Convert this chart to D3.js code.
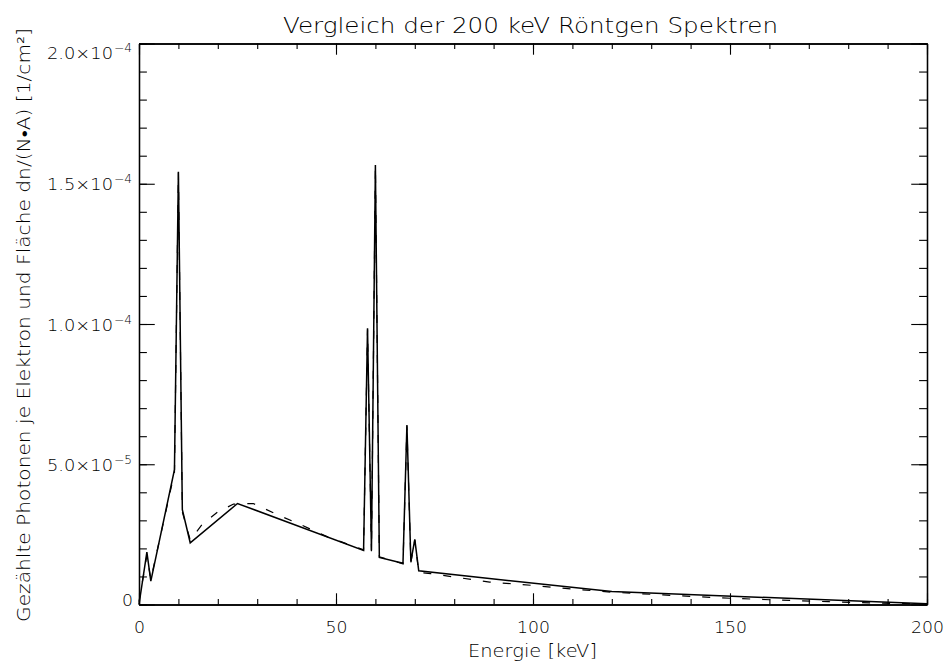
<!DOCTYPE html>
<html>
<head>
<meta charset="utf-8">
<script src="https://cdn.jsdelivr.net/npm/d3@7"></script>
<style>
  html, body { margin: 0; padding: 0; background: #fff; }
  svg { display: block; }
  text { font-family: "DejaVu Sans", "Liberation Sans", sans-serif; font-weight: 200; fill: #000; }
</style>
</head>
<body>
<svg id="chart" width="949" height="666"></svg>
<script>
// ---- Data (values in units of 1e-5 1/cm²) ----
const solidEnergy = [0, 2, 3, 9, 10, 11, 13, 25, 57, 58, 59, 60, 61, 67, 68, 69, 70, 71, 120, 200];
const solidValue  = [0, 1.87, 0.83, 4.81, 15.43, 3.38, 2.2, 3.6, 1.93, 9.85, 1.93, 15.67, 1.68, 1.47, 6.4, 1.53, 2.32, 1.2, 0.46, 0.03];

const dashedEnergy = [0, 2, 3, 9, 10, 11, 13, 16, 20, 24, 29, 36, 41, 48, 57, 58, 59, 60, 61, 67, 68, 69, 70, 71, 74, 80, 89, 100, 110, 120, 133, 147, 160, 175, 188, 200];
const dashedValue  = [0.1, 1.75, 0.9, 4.7, 15.4, 3.3, 2.3, 2.85, 3.3, 3.58, 3.6, 3.15, 2.85, 2.4, 1.95, 9.8, 1.9, 15.6, 1.7, 1.45, 6.35, 1.5, 2.3, 1.15, 1.1, 0.98, 0.8, 0.68, 0.55, 0.44, 0.34, 0.24, 0.17, 0.1, 0.05, 0.02];

const xMajorTicks = [0, 50, 100, 150, 200];
const xMajorLabels = ["0", "50", "100", "150", "200"];
const xMinorTicks = d3.range(0, 201, 10);
const yMajorTicks = [0, 5, 10, 15, 20];
const yLabelMantissa = ["0", "5.0×10", "1.0×10", "1.5×10", "2.0×10"];
const yLabelExponent = ["", "−5", "−4", "−4", "−4"];
const yMinorTicks = d3.range(0, 20.01, 1);

const titleText = "Vergleich der 200 keV Röntgen Spektren";
const xTitle = "Energie [keV]";
const yTitle = "Gezählte Photonen je Elektron und Fläche dn/(N•A) [1/cm²]";

// ---- Layout ----
const L = 139, R = 927, T = 43.5, B = 604.5;
const svg = d3.select("#chart");
const x = d3.scaleLinear().domain([0, 200]).range([L, R]);
const y = d3.scaleLinear().domain([0, 20]).range([B, T]);

const xTickLen = 0.02 * (B - T);   // ticks on x axes
const yTickLen = 0.02 * (R - L);   // ticks on y axes
const charW = 11;                  // label glyph advance (wide stroke font)

function styleAxis(g) {
  g.select(".domain").attr("stroke", "#000").attr("stroke-width", 1.3);
  g.selectAll(".tick line").attr("stroke", "#000").attr("stroke-width", 1.1);
  g.selectAll(".tick text").remove();
}

// bottom axis
svg.append("g").attr("transform", `translate(0,${B})`)
  .call(d3.axisBottom(x).tickValues(xMinorTicks).tickSize(-xTickLen / 2).tickSizeOuter(0).tickFormat(""))
  .call(styleAxis);
const gxb = svg.append("g").attr("transform", `translate(0,${B})`)
  .call(d3.axisBottom(x).tickValues(xMajorTicks).tickSize(-xTickLen).tickSizeOuter(0).tickFormat(""))
  .call(styleAxis);
gxb.selectAll(".tick").append("text")
  .attr("x", (d, i) => -charW * xMajorLabels[i].length / 2)
  .attr("y", 28.5).attr("text-anchor", "start")
  .style("font-size", "16.5px")
  .attr("textLength", (d, i) => charW * xMajorLabels[i].length)
  .attr("lengthAdjust", "spacingAndGlyphs")
  .text((d, i) => xMajorLabels[i]);

// top axis
svg.append("g").attr("transform", `translate(0,${T})`)
  .call(d3.axisTop(x).tickValues(xMinorTicks).tickSize(-xTickLen / 2).tickSizeOuter(0).tickFormat(""))
  .call(styleAxis);
svg.append("g").attr("transform", `translate(0,${T})`)
  .call(d3.axisTop(x).tickValues(xMajorTicks).tickSize(-xTickLen).tickSizeOuter(0).tickFormat(""))
  .call(styleAxis);

// left axis
svg.append("g").attr("transform", `translate(${L},0)`)
  .call(d3.axisLeft(y).tickValues(yMinorTicks).tickSize(-yTickLen / 2).tickSizeOuter(0).tickFormat(""))
  .call(styleAxis);
const gyl = svg.append("g").attr("transform", `translate(${L},0)`)
  .call(d3.axisLeft(y).tickValues(yMajorTicks).tickSize(-yTickLen).tickSizeOuter(0).tickFormat(""))
  .call(styleAxis);
gyl.selectAll(".tick").each(function (d, i) {
  const shift = d === 20 ? 8.5 : (d === 0 ? -5.5 : 0);
  const g = d3.select(this);
  const expW = yLabelExponent[i] ? 20 : 0;
  const mW = charW * yLabelMantissa[i].length;
  g.append("text")
    .attr("x", -6 - expW - mW).attr("y", 6 + shift).attr("text-anchor", "start")
    .style("font-size", "16.5px")
    .attr("textLength", mW)
    .attr("lengthAdjust", "spacingAndGlyphs")
    .text(yLabelMantissa[i]);
  if (yLabelExponent[i]) {
    g.append("text")
      .attr("x", -6 - expW + 1).attr("y", 6 + shift - 7).attr("text-anchor", "start")
      .style("font-size", "12px")
      .attr("textLength", 18).attr("lengthAdjust", "spacingAndGlyphs")
      .text(yLabelExponent[i]);
  }
});

// right axis
svg.append("g").attr("transform", `translate(${R},0)`)
  .call(d3.axisRight(y).tickValues(yMinorTicks).tickSize(-yTickLen / 2).tickSizeOuter(0).tickFormat(""))
  .call(styleAxis);
svg.append("g").attr("transform", `translate(${R},0)`)
  .call(d3.axisRight(y).tickValues(yMajorTicks).tickSize(-yTickLen).tickSizeOuter(0).tickFormat(""))
  .call(styleAxis);

// ---- Lines ----
const line = d3.line().x(d => x(d[0])).y(d => y(d[1]));
const dashedData = dashedEnergy.map((e, i) => [e, dashedValue[i]]);
const solidData = solidEnergy.map((e, i) => [e, solidValue[i]]);

svg.append("path").datum(dashedData)
  .attr("d", line).attr("fill", "none").attr("stroke", "#000")
  .attr("stroke-width", 1.2).attr("stroke-dasharray", "8,12");
svg.append("path").datum(solidData)
  .attr("d", line).attr("fill", "none").attr("stroke", "#000")
  .attr("stroke-width", 1.5).attr("stroke-linejoin", "miter");

// ---- Titles ----
svg.append("text").attr("x", 283).attr("y", 33).attr("text-anchor", "start")
  .attr("textLength", 495).attr("lengthAdjust", "spacingAndGlyphs")
  .style("font-size", "22px").text(titleText);
svg.append("text").attr("x", 468).attr("y", 657).attr("text-anchor", "start")
  .attr("textLength", 129).attr("lengthAdjust", "spacingAndGlyphs")
  .style("font-size", "17px").text(xTitle);
svg.append("text").attr("transform", `translate(30,622) rotate(-90)`)
  .attr("text-anchor", "start")
  .attr("textLength", 594).attr("lengthAdjust", "spacingAndGlyphs")
  .style("font-size", "17px").text(yTitle);
</script>
</body>
</html>
